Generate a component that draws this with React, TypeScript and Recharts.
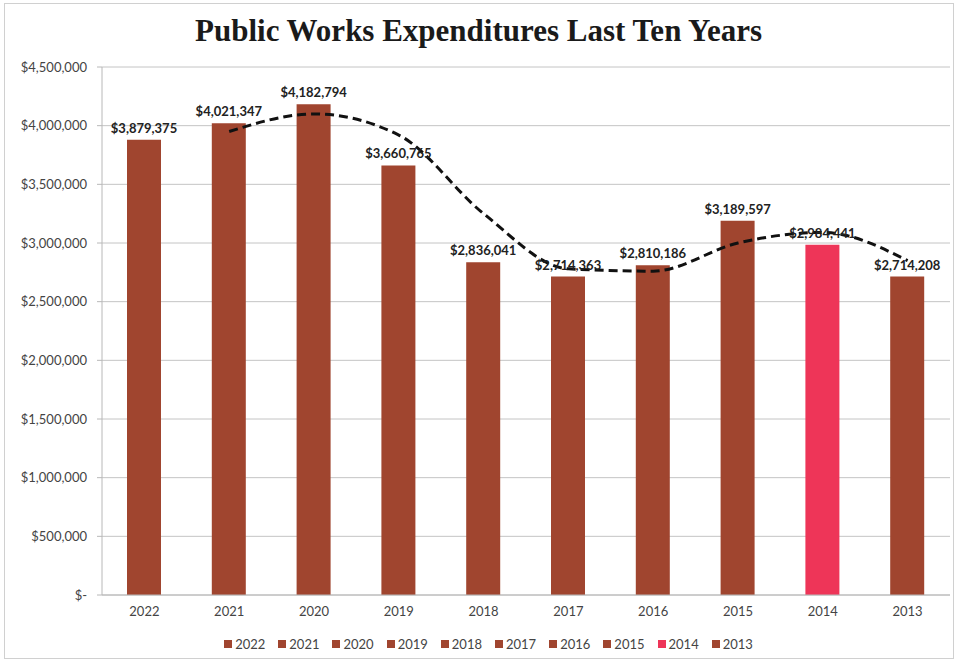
import React from "react";
import {
  ComposedChart,
  Bar,
  Line,
  Cell,
  XAxis,
  YAxis,
  CartesianGrid,
  LabelList,
} from "recharts";

const years = ["2022", "2021", "2020", "2019", "2018", "2017", "2016", "2015", "2014", "2013"];
const expenditures = [3879375, 4021347, 4182794, 3660765, 2836041, 2714363, 2810186, 3189597, 2984441, 2714208];
// dashed trend line (starts at 2021)
const trend = [null, 3950000, 4100000, 3920000, 3250000, 2780000, 2760000, 3000000, 3090000, 2850000];
const yTicks = [0, 500000, 1000000, 1500000, 2000000, 2500000, 3000000, 3500000, 4000000, 4500000];

const BROWN = "#a0452f";
const PINK = "#ee3558";
const barColor = (year: string) => (year === "2014" ? PINK : BROWN);

const data = years.map((year, i) => ({
  year,
  value: expenditures[i],
  trend: trend[i],
}));

const money = (v: number) => (v === 0 ? "$-" : "$" + v.toLocaleString("en-US"));
const FONT = "Lato, 'Open Sans', sans-serif";

function LegendBox() {
  return (
    <div
      style={{
        position: "absolute",
        top: 636,
        left: 0,
        width: 957,
        display: "flex",
        justifyContent: "center",
        gap: 13,
        fontFamily: FONT,
        fontSize: 13,
        color: "#444",
        paddingLeft: 20,
        boxSizing: "border-box",
      }}
    >
      {years.map((y) => (
        <div key={y} style={{ display: "flex", alignItems: "center", gap: 3 }}>
          <span style={{ width: 8, height: 8, background: barColor(y), display: "inline-block" }} />
          <span>{y}</span>
        </div>
      ))}
    </div>
  );
}

export default function App() {
  return (
    <div style={{ position: "absolute", left: 0, top: 0, width: 957, height: 663, background: "#fff" }}>
      <div
        style={{
          position: "absolute",
          left: 4,
          top: 3,
          width: 950,
          height: 656,
          border: "1px solid #d0d0d0",
          boxSizing: "border-box",
        }}
      />
      <div
        style={{
          position: "absolute",
          top: 13,
          left: 0,
          width: 957,
          textAlign: "center",
          fontFamily: "'Liberation Serif', serif",
          fontWeight: "bold",
          fontSize: 31,
          color: "#1a1a1a",
        }}
      >
        Public Works Expenditures Last Ten Years
      </div>
      <ComposedChart
        width={957}
        height={663}
        data={data}
        margin={{ top: 67, right: 7, bottom: 0, left: 0 }}
        style={{ position: "absolute", left: 0, top: 0 }}
      >
        <CartesianGrid vertical={false} stroke="#c4c4c4" />
        <XAxis
          dataKey="year"
          height={68}
          tickLine={false}
          axisLine={{ stroke: "#b8b8b8" }}
          tick={{ fontFamily: FONT, fontSize: 13, fill: "#444" }}
          tickMargin={6}
        />
        <YAxis
          width={102}
          domain={[0, 4500000]}
          ticks={yTicks}
          tickFormatter={money}
          tickSize={5}
          tickMargin={10}
          tickLine={{ stroke: "#b8b8b8" }}
          axisLine={{ stroke: "#b8b8b8" }}
          tick={{ fontFamily: FONT, fontSize: 13, fill: "#444" }}
        />
        <Bar dataKey="value" barSize={34} isAnimationActive={false}>
          {data.map((d) => (
            <Cell key={d.year} fill={barColor(d.year)} />
          ))}
          <LabelList
            dataKey="value"
            position="top"
            offset={7}
            formatter={(v: number) => money(v)}
            style={{ fontFamily: FONT, fontSize: 13, fontWeight: "bold", fill: "#222" }}
          />
        </Bar>
        <Line
          dataKey="trend"
          type="monotone"
          stroke="#111"
          strokeWidth={3}
          strokeDasharray="9 5"
          dot={false}
          activeDot={false}
          connectNulls={false}
          isAnimationActive={false}
        />
      </ComposedChart>
      <LegendBox />
    </div>
  );
}
